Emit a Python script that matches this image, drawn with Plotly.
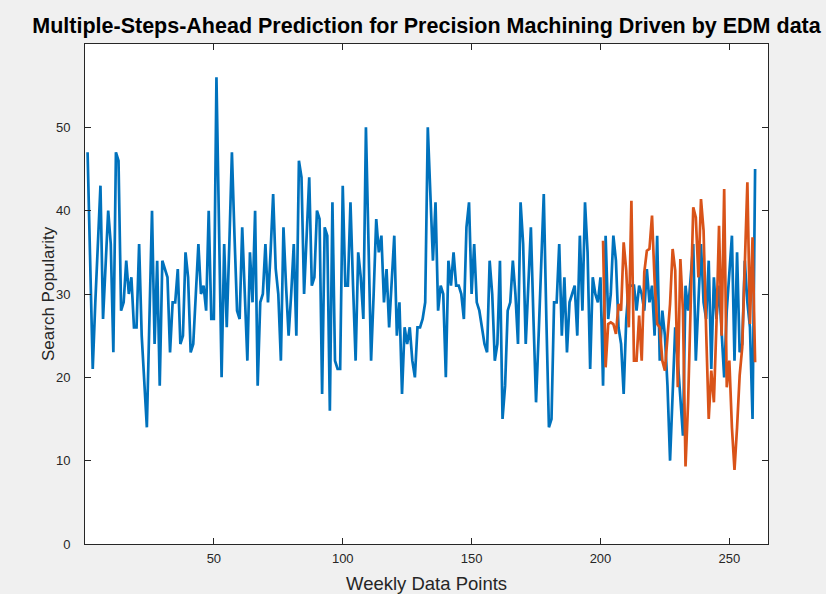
import plotly.graph_objects as go

# Actual weekly search popularity (blue), x = 1..260
actual = [
    47, 34, 21, 29, 36, 43, 27, 34, 40, 36,
    23, 47, 46, 28, 29, 34, 30, 32, 26, 26,
    36, 25, 20, 14, 27, 40, 24, 34, 19, 34,
    33, 32, 23, 29, 29, 33, 24, 25, 35, 32,
    23, 24, 30, 36, 30, 31, 28, 40, 27, 27,
    56, 38, 20, 36, 26, 36, 47, 37, 28, 27,
    38, 30, 22, 35, 29, 40, 19, 29, 30, 36,
    29, 35, 42, 33, 30, 22, 38, 31, 25, 30,
    36, 25, 46, 44, 30, 37, 44, 31, 32, 40,
    39, 18, 38, 37, 16, 41, 22, 21, 21, 43,
    31, 31, 41, 31, 22, 35, 32, 27, 50, 36,
    22, 30, 39, 35, 37, 29, 33, 26, 31, 37,
    25, 29, 18, 26, 24, 26, 22, 20, 26, 26,
    27, 29, 50, 43, 34, 41, 28, 31, 30, 20,
    34, 31, 35, 31, 31, 30, 27, 38, 41, 30,
    36, 29, 28, 26, 24, 23, 34, 30, 22, 24,
    34, 15, 19, 28, 29, 34, 30, 24, 41, 36,
    24, 31, 38, 27, 17, 25, 33, 42, 27, 14,
    15, 29, 29, 36, 25, 32, 23, 29, 30, 31,
    25, 37, 28, 41, 35, 21, 32, 30, 29, 32,
    19, 37, 27, 30, 37, 34, 26, 24, 18, 27,
    31, 31, 31, 28, 31, 30, 28, 33, 29, 31,
    25, 37, 22, 28, 25, 19, 10, 18, 26, 22,
    17, 13, 31, 28, 32, 36, 22, 30, 36, 29,
    27, 34, 21, 32, 27, 31, 25, 20, 28, 33,
    37, 22, 35, 23, 24, 34, 29, 26, 15, 45,
]
actual_x = list(range(1, len(actual) + 1))

# Multiple-steps-ahead prediction (orange), x = 201..260
predicted = [
    36.4, 21.2, 26.4, 26.6, 26.4, 25.2, 28.8, 28.0, 36.2, 32.8,
    26.0, 41.2, 22.0, 22.0, 27.4, 22.0, 32.6, 35.2, 35.4, 39.4,
    31.6, 26.4, 26.0, 22.0, 20.8, 25.0, 28.8, 35.4, 32.8, 18.8,
    34.2, 28.0, 9.3, 17.0, 30.4, 40.4, 39.2, 32.0, 41.4, 37.6,
    25.6, 15.0, 20.8, 17.0, 26.4, 38.2, 25.0, 42.6, 18.8, 22.0,
    14.0, 8.9, 14.0, 20.2, 23.6, 33.0, 43.4, 26.4, 36.8, 21.8,
]
pred_x = list(range(201, 201 + len(predicted)))

x_ticks = [50, 100, 150, 200, 250]
y_ticks = [0, 10, 20, 30, 40, 50]

title_text = "Multiple-Steps-Ahead Prediction for Precision Machining Driven by EDM data"
x_label = "Weekly Data Points"
y_label = "Search Popularity"

BLUE = "#0072BD"
ORANGE = "#D95319"
AX = "#262626"
BG = "#f0f0f0"
FONT = "Liberation Sans, Arial, sans-serif"

fig = go.Figure()
fig.add_trace(go.Scatter(x=actual_x, y=actual, mode="lines",
                         line=dict(color=BLUE, width=2.7), showlegend=False))
fig.add_trace(go.Scatter(x=pred_x, y=predicted, mode="lines",
                         line=dict(color=ORANGE, width=2.7), showlegend=False))

axis_common = dict(
    showgrid=False, zeroline=False, showline=True, linecolor=AX, linewidth=1,
    mirror="ticks", ticks="inside", ticklen=6, tickwidth=1, tickcolor=AX,
    tickfont=dict(family=FONT, size=13, color=AX),
)

fig.update_layout(
    width=826, height=594,
    margin=dict(l=85, r=58, t=44, b=50),
    paper_bgcolor=BG, plot_bgcolor="white",
    title=dict(text="<b>" + title_text + "</b>", x=0.5, xref="paper",
               y=1 - 25 / 594, yref="container", xanchor="center", yanchor="middle",
               font=dict(family=FONT, size=21.5, color="black")),
    xaxis=dict(range=[0, 265], tickvals=x_ticks, ticklabelstandoff=2, **axis_common),
    yaxis=dict(range=[0, 60], tickvals=y_ticks, ticklabelstandoff=11, **axis_common),
    annotations=[
        dict(text=x_label, xref="paper", yref="paper", x=0.5, y=-39 / 500,
             xanchor="center", yanchor="middle", showarrow=False,
             font=dict(family=FONT, size=18.5, color=AX)),
        dict(text=y_label, xref="paper", yref="paper", x=(48 - 85) / 683, y=0.5,
             xanchor="center", yanchor="middle", textangle=-90, showarrow=False,
             font=dict(family=FONT, size=17, color=AX)),
    ],
)

fig.write_html(
    "out.html",
    config={"displayModeBar": False},
    post_script="document.body.style.margin='0';document.body.style.background='%s';" % BG,
)
